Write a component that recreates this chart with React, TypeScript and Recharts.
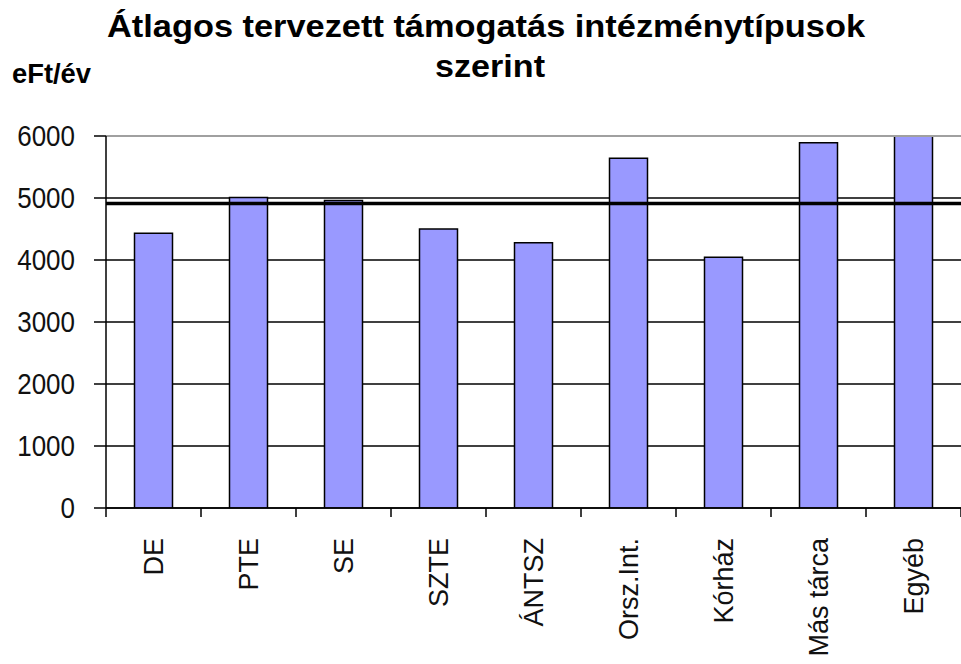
import React from 'react';
import { BarChart, Bar, XAxis, YAxis, CartesianGrid, ReferenceLine } from 'recharts';

const categories = ['DE', 'PTE', 'SE', 'SZTE', 'ÁNTSZ', 'Orsz.Int.', 'Kórház', 'Más tárca', 'Egyéb'];
const values = [4430, 5010, 4960, 4500, 4280, 5640, 4045, 5890, 6300];
const yTicks = [0, 1000, 2000, 3000, 4000, 5000, 6000];
const yMax = 6000;
const averageValue = 4910;
const titleLine1 = 'Átlagos tervezett támogatás intézménytípusok';
const titleLine2 = 'szerint';
const unitLabel = 'eFt/év';

const data = categories.map((c, i) => ({ name: c, value: values[i] }));

const FONT = '"Liberation Sans", Arial, sans-serif';
const BAND = 855 / categories.length;

const YTick = (props: any) => {
  const { x, y, payload } = props;
  return (
    <g transform={`translate(${x},${y}) scale(1,1.12)`}>
      <text x={0} y={0} textAnchor="end" dominantBaseline="central" fontFamily={FONT} fontSize={26} fill="#111">
        {payload.value}
      </text>
    </g>
  );
};

const XTick = (props: any) => {
  const { x, y, payload, index } = props;
  return (
    <g>
      <line x1={x - BAND / 2} x2={x - BAND / 2} y1={y} y2={y + 9} stroke="#000" strokeWidth={1.5} />
      {index === categories.length - 1 && (
        <line x1={x + BAND / 2} x2={x + BAND / 2} y1={y} y2={y + 9} stroke="#000" strokeWidth={1.5} />
      )}
      <text
        transform={`translate(${x},${y + 30}) rotate(-90)`}
        textAnchor="end"
        dy="0.36em"
        fontFamily={FONT}
        fontSize={27}
        fill="#111"
      >
        {payload.value}
      </text>
    </g>
  );
};

export default function App() {
  return (
    <div style={{ position: 'absolute', left: 0, top: 0, width: 961, height: 664, background: '#fff' }}>
      <BarChart
        width={961}
        height={664}
        data={data}
        margin={{ top: 136, right: 0, bottom: 0, left: 0 }}
        barCategoryGap="30%"
      >
        <CartesianGrid vertical={false} stroke="#000" strokeWidth={1.5} />
        <XAxis
          dataKey="name"
          height={156}
          interval={0}
          tickLine={false}
          tickSize={0}
          tickMargin={0}
          axisLine={{ stroke: '#000', strokeWidth: 1.5 }}
          tick={<XTick />}
        />
        <YAxis
          width={106}
          domain={[0, yMax]}
          ticks={yTicks}
          allowDataOverflow
          tickSize={12}
          tickMargin={19}
          tickLine={{ stroke: '#000', strokeWidth: 1.5 }}
          axisLine={{ stroke: '#000', strokeWidth: 1.5 }}
          tick={<YTick />}
        />
        <Bar dataKey="value" fill="#9999FF" stroke="#000" strokeWidth={1.5} isAnimationActive={false} />
        <ReferenceLine y={yMax} stroke="#a0a0a0" strokeWidth={2} />
        <ReferenceLine y={averageValue} stroke="#000" strokeWidth={3.5} />
      </BarChart>
      <svg width={961} height={120} style={{ position: 'absolute', left: 0, top: 0, pointerEvents: 'none' }}>
        <text x={486} y={37} textAnchor="middle" fontFamily={FONT} fontWeight="bold" fontSize={32} textLength={758} lengthAdjust="spacingAndGlyphs" fill="#000">
          {titleLine1}
        </text>
        <text x={490} y={77} textAnchor="middle" fontFamily={FONT} fontWeight="bold" fontSize={32} textLength={110} lengthAdjust="spacingAndGlyphs" fill="#000">
          {titleLine2}
        </text>
        <text x={12} y={83} fontFamily={FONT} fontWeight="bold" fontSize={27} textLength={79} lengthAdjust="spacingAndGlyphs" fill="#000">
          {unitLabel}
        </text>
      </svg>
    </div>
  );
}
